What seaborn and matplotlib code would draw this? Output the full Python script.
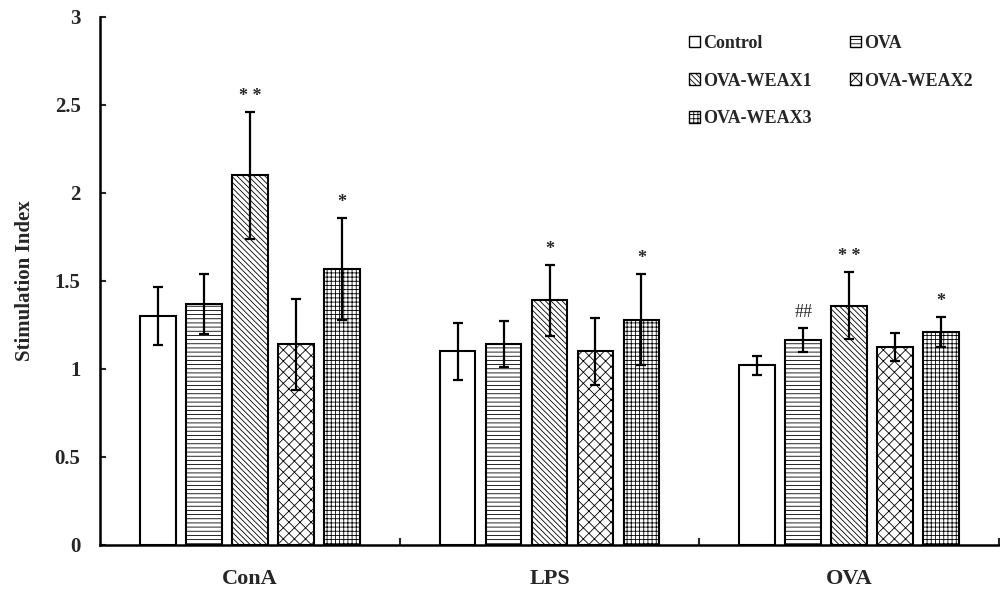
import matplotlib

matplotlib.use("Agg")

import matplotlib.pyplot as plt
import numpy as np
import pandas as pd
import seaborn as sns
from matplotlib.patches import Patch

# Stimulation index per stimulus (ConA, LPS, OVA) and treatment group.
stimuli = ["ConA", "LPS", "OVA"]
groups = ["Control", "OVA", "OVA-WEAX1", "OVA-WEAX2", "OVA-WEAX3"]
means = {
    "Control": [1.30, 1.10, 1.02],
    "OVA": [1.37, 1.14, 1.165],
    "OVA-WEAX1": [2.10, 1.39, 1.36],
    "OVA-WEAX2": [1.14, 1.10, 1.125],
    "OVA-WEAX3": [1.57, 1.28, 1.21],
}
errors = {
    "Control": [0.165, 0.16, 0.055],
    "OVA": [0.17, 0.13, 0.07],
    "OVA-WEAX1": [0.36, 0.20, 0.19],
    "OVA-WEAX2": [0.26, 0.19, 0.08],
    "OVA-WEAX3": [0.29, 0.26, 0.085],
}
# significance marks: (group, stimulus, text)
marks = [
    ("OVA-WEAX1", "ConA", "* *"),
    ("OVA-WEAX3", "ConA", "*"),
    ("OVA-WEAX1", "LPS", "*"),
    ("OVA-WEAX3", "LPS", "*"),
    ("OVA", "OVA", "##"),
    ("OVA-WEAX1", "OVA", "* *"),
    ("OVA-WEAX3", "OVA", "*"),
]
hatches = {
    "Control": "",
    "OVA": "----",
    "OVA-WEAX1": "\\\\\\\\\\\\",
    "OVA-WEAX2": "xxx",
    "OVA-WEAX3": "++++",
}

sns.set_theme(style="ticks")
plt.rcParams["font.family"] = ["Liberation Serif", "DejaVu Serif"]
plt.rcParams["font.weight"] = "bold"
plt.rcParams["hatch.linewidth"] = 0.6

rows = []
for g in groups:
    for s, m in zip(stimuli, means[g]):
        rows.append({"stimulus": s, "group": g, "value": m})
df = pd.DataFrame(rows)

fig = plt.figure(figsize=(10, 5.96), dpi=100)
ax = fig.add_axes([0.10, 0.0856, 0.899, 0.886])

sns.barplot(
    data=df,
    x="stimulus",
    y="value",
    hue="group",
    order=stimuli,
    hue_order=groups,
    palette=["white"] * len(groups),
    edgecolor="black",
    linewidth=1.5,
    width=0.767,
    gap=0.22,
    errorbar=None,
    legend=False,
    ax=ax,
)

centers = {}
for g, container in zip(groups, ax.containers):
    for s, bar in zip(stimuli, container):
        bar.set_hatch(hatches[g])
        centers[(g, s)] = bar.get_x() + bar.get_width() / 2
    xs = [centers[(g, s)] for s in stimuli]
    ax.errorbar(xs, means[g], yerr=errors[g], fmt="none", ecolor="black",
                elinewidth=1.6, capsize=3.8, capthick=1.6, zorder=3)

for g, s, text in marks:
    i = stimuli.index(s)
    top = means[g][i] + errors[g][i]
    ax.text(centers[(g, s)], top + 0.04, text, ha="center", va="bottom",
            fontsize=13, fontweight="bold" if "*" in text else "normal")

ax.set_xlim(-0.5, 2.5)
ax.set_ylim(0, 3)
ax.set_yticks(np.arange(0, 3.01, 0.5))
ax.set_yticklabels(["0", "0.5", "1", "1.5", "2", "2.5", "3"])
ax.set_xticks(range(len(stimuli)))
ax.set_xticks([0.5, 1.5, 2.5], minor=True)
ax.tick_params(axis="x", which="major", length=0, labelsize=16, pad=17)
ax.tick_params(axis="x", which="minor", length=5, width=1.5, direction="in")
ax.tick_params(axis="y", length=4, width=1.5, direction="in", labelsize=15, pad=14)
for lab in ax.get_xticklabels() + ax.get_yticklabels():
    lab.set_fontweight("bold")
ax.set_xlabel("")
ax.set_ylabel("Stimulation Index", fontsize=15, fontweight="bold", labelpad=14)
for side in ("left", "bottom"):
    ax.spines[side].set_linewidth(1.8)
    ax.spines[side].set_color("black")
sns.despine(ax=ax)

handle = {
    g: Patch(facecolor="white", edgecolor="black", hatch=hatches[g], linewidth=1.0)
    for g in groups
}
order = ["Control", "OVA-WEAX1", "OVA-WEAX3", "OVA", "OVA-WEAX2"]
leg = ax.legend(
    [handle[g] for g in order],
    order,
    ncol=2,
    loc="upper left",
    bbox_to_anchor=(0.637, 0.997),
    frameon=False,
    handlelength=0.6,
    handleheight=0.6,
    handletextpad=0.2,
    columnspacing=2.1,
    labelspacing=1.15,
    prop={"family": ["Liberation Serif"], "weight": "bold", "size": 13},
)

fig.savefig("out.png", dpi=100)
